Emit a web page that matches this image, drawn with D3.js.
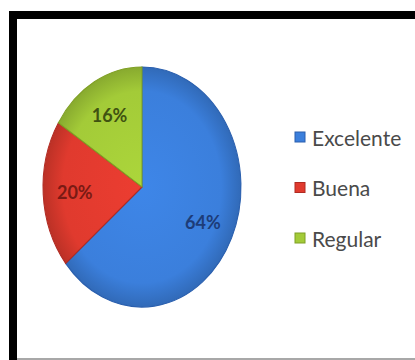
<!DOCTYPE html>
<html>
<head>
<meta charset="utf-8">
<script src="https://cdn.jsdelivr.net/npm/d3@7"></script>
<style>
  body { margin: 0; background: #fff; }
  svg { display: block; }
</style>
</head>
<body>
<div id="chart"></div>
<script>
// data
const categories = ["Excelente", "Buena", "Regular"];
const percents = [64, 20, 16];
const fills = ["#3b7fdc", "#e03a2e", "#a3cb38"];
const edges = ["#2a5fae", "#b02a22", "#7f9f24"];
const labelInk = ["#1d3c78", "#7a1a14", "#3f5211"];

const w = 415, h = 360;
const cx = 142, cy = 187;
const rx = 99, ry = 120; // the picture is stretched a bit vertically

let svg = d3.select("#chart")
  .append("svg")
  .attr("width", w)
  .attr("height", h);

let defs = svg.append("defs");

// soft shading for each slice
fills.forEach((c, i) => {
  let g = defs.append("radialGradient")
    .attr("id", "shade" + i)
    .attr("gradientUnits", "userSpaceOnUse")
    .attr("cx", 0).attr("cy", 0).attr("r", rx);
  g.append("stop").attr("offset", "0%").attr("stop-color", d3.color(c).brighter(0.15));
  g.append("stop").attr("offset", "80%").attr("stop-color", c);
  g.append("stop").attr("offset", "100%").attr("stop-color", d3.color(c).darker(0.5));
});

// frame: thick black top and left, thin grey bottom
svg.append("rect").attr("x", 9).attr("y", 11).attr("width", w - 9).attr("height", 8).attr("fill", "#000");
svg.append("rect").attr("x", 9).attr("y", 11).attr("width", 8).attr("height", h - 11).attr("fill", "#000");
svg.append("rect").attr("x", 17).attr("y", 358).attr("width", w - 17).attr("height", 2).attr("fill", "#a8a8a8");

const pie = d3.pie().sort(null).value(d => d);
const arcs = pie(percents);

const arc = d3.arc().innerRadius(0).outerRadius(rx);
const labelArc = d3.arc().innerRadius(rx * 0.68).outerRadius(rx * 0.68);

let pieG = svg.append("g")
  .attr("transform", `translate(${cx},${cy}) scale(1,${ry / rx})`);

pieG.selectAll("path")
  .data(arcs)
  .enter()
  .append("path")
  .attr("d", arc)
  .attr("fill", (d, i) => `url(#shade${i})`)
  .attr("stroke", (d, i) => edges[i])
  .attr("stroke-width", 1);

// percent labels (placed outside the scaled group so text isn't stretched)
svg.append("g")
  .selectAll("text")
  .data(arcs)
  .enter()
  .append("text")
  .attr("x", d => cx + labelArc.centroid(d)[0])
  .attr("y", d => cy + labelArc.centroid(d)[1] * ry / rx)
  .attr("text-anchor", "middle")
  .attr("dominant-baseline", "central")
  .attr("font-family", "Lato, 'Open Sans', sans-serif")
  .attr("font-size", 18)
  .attr("font-weight", "bold")
  .attr("fill", (d, i) => labelInk[i])
  .text(d => d.data + "%");

// legend
let legendY = d3.scalePoint()
  .domain(categories)
  .range([137, 238]);

let legend = svg.append("g").attr("id", "legend");

legend.selectAll("rect")
  .data(categories)
  .enter()
  .append("rect")
  .attr("x", 295)
  .attr("y", d => legendY(d) - 5)
  .attr("width", 10)
  .attr("height", 10)
  .attr("fill", (d, i) => fills[i])
  .attr("stroke", (d, i) => edges[i])
  .attr("stroke-width", 1);

legend.selectAll("text")
  .data(categories)
  .enter()
  .append("text")
  .attr("x", 312)
  .attr("y", d => legendY(d))
  .attr("dominant-baseline", "central")
  .attr("font-family", "Lato, 'Open Sans', sans-serif")
  .attr("font-size", 21)
  .attr("fill", "#4a4a4a")
  .text(d => d);
</script>
</body>
</html>
